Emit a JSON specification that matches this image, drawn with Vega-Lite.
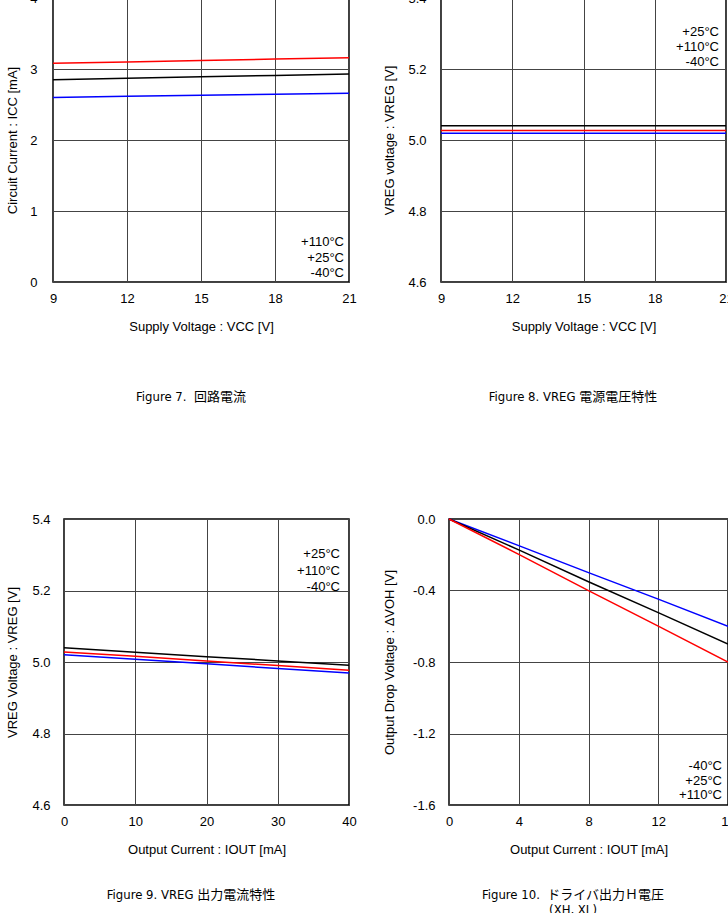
{
  "$schema": "https://vega.github.io/schema/vega-lite/v6.json",
  "background": "white",
  "padding": {"left": -21, "top": -9, "right": -7, "bottom": -3},
  "datasets": {
    "curves": [
      {"fig": "7", "temp": "+110°C", "x": 9, "y": 3.08},
      {"fig": "7", "temp": "+110°C", "x": 12, "y": 3.10},
      {"fig": "7", "temp": "+110°C", "x": 15, "y": 3.12},
      {"fig": "7", "temp": "+110°C", "x": 18, "y": 3.14},
      {"fig": "7", "temp": "+110°C", "x": 21, "y": 3.16},
      {"fig": "7", "temp": "+25°C", "x": 9, "y": 2.85},
      {"fig": "7", "temp": "+25°C", "x": 12, "y": 2.87},
      {"fig": "7", "temp": "+25°C", "x": 15, "y": 2.89},
      {"fig": "7", "temp": "+25°C", "x": 18, "y": 2.91},
      {"fig": "7", "temp": "+25°C", "x": 21, "y": 2.93},
      {"fig": "7", "temp": "-40°C", "x": 9, "y": 2.60},
      {"fig": "7", "temp": "-40°C", "x": 12, "y": 2.615},
      {"fig": "7", "temp": "-40°C", "x": 15, "y": 2.63},
      {"fig": "7", "temp": "-40°C", "x": 18, "y": 2.645},
      {"fig": "7", "temp": "-40°C", "x": 21, "y": 2.66},
      {"fig": "8", "temp": "+25°C", "x": 9, "y": 5.04},
      {"fig": "8", "temp": "+25°C", "x": 12, "y": 5.04},
      {"fig": "8", "temp": "+25°C", "x": 15, "y": 5.04},
      {"fig": "8", "temp": "+25°C", "x": 18, "y": 5.04},
      {"fig": "8", "temp": "+25°C", "x": 21, "y": 5.04},
      {"fig": "8", "temp": "+110°C", "x": 9, "y": 5.027},
      {"fig": "8", "temp": "+110°C", "x": 12, "y": 5.027},
      {"fig": "8", "temp": "+110°C", "x": 15, "y": 5.027},
      {"fig": "8", "temp": "+110°C", "x": 18, "y": 5.027},
      {"fig": "8", "temp": "+110°C", "x": 21, "y": 5.027},
      {"fig": "8", "temp": "-40°C", "x": 9, "y": 5.019},
      {"fig": "8", "temp": "-40°C", "x": 12, "y": 5.019},
      {"fig": "8", "temp": "-40°C", "x": 15, "y": 5.019},
      {"fig": "8", "temp": "-40°C", "x": 18, "y": 5.019},
      {"fig": "8", "temp": "-40°C", "x": 21, "y": 5.019},
      {"fig": "9", "temp": "+25°C", "x": 0, "y": 5.040},
      {"fig": "9", "temp": "+25°C", "x": 10, "y": 5.027},
      {"fig": "9", "temp": "+25°C", "x": 20, "y": 5.015},
      {"fig": "9", "temp": "+25°C", "x": 30, "y": 5.003},
      {"fig": "9", "temp": "+25°C", "x": 40, "y": 4.991},
      {"fig": "9", "temp": "+110°C", "x": 0, "y": 5.028},
      {"fig": "9", "temp": "+110°C", "x": 10, "y": 5.016},
      {"fig": "9", "temp": "+110°C", "x": 20, "y": 5.003},
      {"fig": "9", "temp": "+110°C", "x": 30, "y": 4.990},
      {"fig": "9", "temp": "+110°C", "x": 40, "y": 4.977},
      {"fig": "9", "temp": "-40°C", "x": 0, "y": 5.020},
      {"fig": "9", "temp": "-40°C", "x": 10, "y": 5.008},
      {"fig": "9", "temp": "-40°C", "x": 20, "y": 4.995},
      {"fig": "9", "temp": "-40°C", "x": 30, "y": 4.982},
      {"fig": "9", "temp": "-40°C", "x": 40, "y": 4.969},
      {"fig": "10", "temp": "-40°C", "x": 0, "y": 0},
      {"fig": "10", "temp": "-40°C", "x": 4, "y": -0.149},
      {"fig": "10", "temp": "-40°C", "x": 8, "y": -0.300},
      {"fig": "10", "temp": "-40°C", "x": 12, "y": -0.448},
      {"fig": "10", "temp": "-40°C", "x": 16, "y": -0.600},
      {"fig": "10", "temp": "+25°C", "x": 0, "y": 0},
      {"fig": "10", "temp": "+25°C", "x": 4, "y": -0.173},
      {"fig": "10", "temp": "+25°C", "x": 8, "y": -0.351},
      {"fig": "10", "temp": "+25°C", "x": 12, "y": -0.524},
      {"fig": "10", "temp": "+25°C", "x": 16, "y": -0.700},
      {"fig": "10", "temp": "+110°C", "x": 0, "y": 0},
      {"fig": "10", "temp": "+110°C", "x": 4, "y": -0.198},
      {"fig": "10", "temp": "+110°C", "x": 8, "y": -0.401},
      {"fig": "10", "temp": "+110°C", "x": 12, "y": -0.599},
      {"fig": "10", "temp": "+110°C", "x": 16, "y": -0.800}
    ],
    "labels": [
      {"fig": "7", "label": "+110°C", "x": 21, "y": 0.568},
      {"fig": "7", "label": "+25°C", "x": 21, "y": 0.343},
      {"fig": "7", "label": "-40°C", "x": 21, "y": 0.127},
      {"fig": "8", "label": "+25°C", "x": 21, "y": 5.305},
      {"fig": "8", "label": "+110°C", "x": 21, "y": 5.262},
      {"fig": "8", "label": "-40°C", "x": 21, "y": 5.219},
      {"fig": "9", "label": "+25°C", "x": 40, "y": 5.301},
      {"fig": "9", "label": "+110°C", "x": 40, "y": 5.255},
      {"fig": "9", "label": "-40°C", "x": 40, "y": 5.211},
      {"fig": "10", "label": "-40°C", "x": 16, "y": -1.380},
      {"fig": "10", "label": "+25°C", "x": 16, "y": -1.464},
      {"fig": "10", "label": "+110°C", "x": 16, "y": -1.546}
    ]
  },
  "config": {
    "font": "Liberation Sans",
    "view": {"stroke": "#000000", "strokeWidth": 1.5},
    "axis": {
      "labelFont": "Liberation Sans", "labelFontSize": 13, "labelColor": "#000000",
      "titleFont": "Liberation Sans", "titleFontSize": 13, "titleFontWeight": "normal", "titleColor": "#000000",
      "ticks": false, "tickSize": 0, "domain": false,
      "grid": true, "gridColor": "#444444", "gridWidth": 1, "gridOpacity": 1,
      "labelFlush": false
    },
    "axisX": {"labelPadding": 10, "titlePadding": 15.5},
    "title": {"font": "Liberation Sans Narrow, DejaVu Sans Condensed, Noto Sans CJK JP", "fontSize": 13, "fontWeight": "normal", "color": "#000000", "lineHeight": 15},
    "text": {"font": "Liberation Sans", "fontSize": 13, "color": "#000000"}
  },
  "spacing": 107,
  "vconcat": [
    {
      "spacing": 25,
      "hconcat": [
        {
          "width": 1, "height": 1,
          "view": {"stroke": null},
          "data": {"values": []},
          "mark": "point"
        },
        {
          "width": 296, "height": 284,
          "title": {"text": "Figure 7.\u00a0 回路電流", "orient": "bottom", "offset": 57, "dx": -10, "anchor": "middle", "frame": "group"},
          "layer": [
            {
              "data": {"name": "curves"},
              "transform": [{"filter": "datum.fig == '7'"}],
              "mark": {"type": "line", "strokeWidth": 1.5},
              "encoding": {
                "x": {"field": "x", "type": "quantitative", "scale": {"domain": [9, 21], "nice": false, "zero": false}, "axis": {"values": [9, 12, 15, 18, 21], "title": "Supply Voltage : VCC [V]"}},
                "y": {"field": "y", "type": "quantitative", "scale": {"domain": [0, 4], "nice": false}, "axis": {"values": [0, 1, 2, 3, 4], "format": "d", "title": "Circuit Current : ICC [mA]", "labelPadding": 16, "titlePadding": 10.6}},
                "color": {"field": "temp", "type": "nominal", "scale": {"domain": ["+110°C", "+25°C", "-40°C"], "range": ["#ff0000", "#000000", "#0000ff"]}, "legend": null}
              }
            },
            {
              "data": {"name": "labels"},
              "transform": [{"filter": "datum.fig == '7'"}],
              "mark": {"type": "text", "align": "right", "baseline": "middle", "dx": -5},
              "encoding": {
                "x": {"field": "x", "type": "quantitative"},
                "y": {"field": "y", "type": "quantitative"},
                "text": {"field": "label"}
              }
            }
          ]
        },
        {
          "width": 285, "height": 284,
          "title": {"text": "Figure 8. VREG 電源電圧特性", "orient": "bottom", "offset": 57, "dx": -10.5, "anchor": "middle", "frame": "group"},
          "layer": [
            {
              "data": {"name": "curves"},
              "transform": [{"filter": "datum.fig == '8'"}],
              "mark": {"type": "line", "strokeWidth": 1.5},
              "encoding": {
                "x": {"field": "x", "type": "quantitative", "scale": {"domain": [9, 21], "nice": false, "zero": false}, "axis": {"values": [9, 12, 15, 18, 21], "title": "Supply Voltage : VCC [V]"}},
                "y": {"field": "y", "type": "quantitative", "scale": {"domain": [4.6, 5.4], "nice": false, "zero": false}, "axis": {"values": [4.6, 4.8, 5.0, 5.2, 5.4], "format": ".1f", "title": "VREG voltage : VREG [V]", "labelPadding": 15, "titlePadding": 11.4}},
                "color": {"field": "temp", "type": "nominal", "legend": null}
              }
            },
            {
              "data": {"name": "labels"},
              "transform": [{"filter": "datum.fig == '8'"}],
              "mark": {"type": "text", "align": "right", "baseline": "middle", "dx": -7},
              "encoding": {
                "x": {"field": "x", "type": "quantitative"},
                "y": {"field": "y", "type": "quantitative"},
                "text": {"field": "label"}
              }
            }
          ]
        }
      ]
    },
    {
      "spacing": 25,
      "hconcat": [
        {
          "width": 1, "height": 1,
          "view": {"stroke": null},
          "data": {"values": []},
          "mark": "point"
        },
        {
          "width": 285, "height": 286,
          "title": {"text": "Figure 9. VREG 出力電流特性", "orient": "bottom", "offset": 32.5, "dx": -15.5, "anchor": "middle", "frame": "group"},
          "layer": [
            {
              "data": {"name": "curves"},
              "transform": [{"filter": "datum.fig == '9'"}],
              "mark": {"type": "line", "strokeWidth": 1.5},
              "encoding": {
                "x": {"field": "x", "type": "quantitative", "scale": {"domain": [0, 40], "nice": false}, "axis": {"values": [0, 10, 20, 30, 40], "title": "Output Current : IOUT [mA]"}},
                "y": {"field": "y", "type": "quantitative", "scale": {"domain": [4.6, 5.4], "nice": false, "zero": false}, "axis": {"values": [4.6, 4.8, 5.0, 5.2, 5.4], "format": ".1f", "title": "VREG Voltage : VREG [V]", "labelPadding": 14, "titlePadding": 12.7}},
                "color": {"field": "temp", "type": "nominal", "legend": null}
              }
            },
            {
              "data": {"name": "labels"},
              "transform": [{"filter": "datum.fig == '9'"}],
              "mark": {"type": "text", "align": "right", "baseline": "middle", "dx": -9},
              "encoding": {
                "x": {"field": "x", "type": "quantitative"},
                "y": {"field": "y", "type": "quantitative"},
                "text": {"field": "label"}
              }
            }
          ]
        },
        {
          "width": 279, "height": 286,
          "title": {"text": ["Figure 10.\u00a0 ドライバ出力Ｈ電圧", "(XH, XL)"], "orient": "bottom", "offset": 32.5, "dx": -15.5, "anchor": "middle", "frame": "group"},
          "layer": [
            {
              "data": {"name": "curves"},
              "transform": [{"filter": "datum.fig == '10'"}],
              "mark": {"type": "line", "strokeWidth": 1.5},
              "encoding": {
                "x": {"field": "x", "type": "quantitative", "scale": {"domain": [0, 16], "nice": false}, "axis": {"values": [0, 4, 8, 12, 16], "title": "Output Current : IOUT [mA]"}},
                "y": {"field": "y", "type": "quantitative", "scale": {"domain": [-1.6, 0], "nice": false}, "axis": {"values": [-1.6, -1.2, -0.8, -0.4, 0], "format": ".1f", "labelExpr": "replace(datum.label, '\u2212', '-')", "title": "Output Drop Voltage : ΔVOH [V]", "labelPadding": 14, "titlePadding": 16}},
                "color": {"field": "temp", "type": "nominal", "legend": null}
              }
            },
            {
              "data": {"name": "labels"},
              "transform": [{"filter": "datum.fig == '10'"}],
              "mark": {"type": "text", "align": "right", "baseline": "middle", "dx": -6},
              "encoding": {
                "x": {"field": "x", "type": "quantitative"},
                "y": {"field": "y", "type": "quantitative"},
                "text": {"field": "label"}
              }
            }
          ]
        }
      ]
    }
  ]
}
